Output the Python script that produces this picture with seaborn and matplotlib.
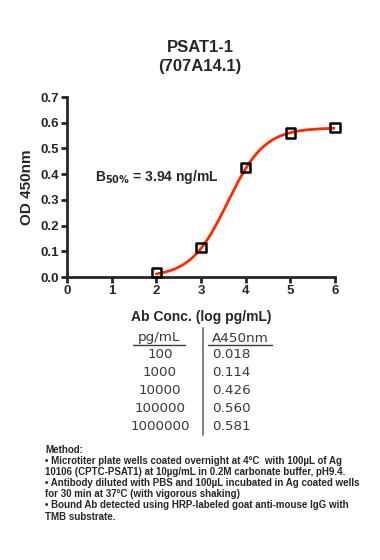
import numpy as np
import pandas as pd
import matplotlib
matplotlib.use("Agg")
import matplotlib.pyplot as plt
import seaborn as sns
from matplotlib.lines import Line2D

# data
conc_pg_ml = ["100", "1000", "10000", "100000", "1000000"]
log_conc = [2, 3, 4, 5, 6]
a450 = [0.018, 0.114, 0.426, 0.560, 0.581]

# 4PL fit parameters (B50% = 3.94 ng/mL)
fit_bottom = 0.0
fit_top = 0.58
fit_log_ec50 = 3.595
fit_hill = 1.05

method_lines = [
    "Method:",
    "\u2022 Microtiter plate wells coated overnight at 4\u00b0C  with 100\u00b5L of Ag",
    "10106 (CPTC-PSAT1) at 10\u00b5g/mL in 0.2M carbonate buffer, pH9.4.",
    "\u2022 Antibody diluted with PBS and 100\u00b5L incubated in Ag coated wells",
    "for 30 min at 37\u00b0C (with vigorous shaking)",
    "\u2022 Bound Ab detected using HRP-labeled goat anti-mouse IgG with",
    "TMB substrate.",
]

sns.set_style("ticks")
plt.rcParams["font.family"] = ["Liberation Sans", "DejaVu Sans"]
plt.rcParams["font.weight"] = "bold"

W, H = 380, 560
fig = plt.figure(figsize=(3.8, 5.6), dpi=100)
ax = fig.add_axes([67 / W, 1 - 277 / H, 268 / W, 180 / H])

xfit = np.linspace(min(log_conc), max(log_conc), 200)
yfit = fit_bottom + (fit_top - fit_bottom) / (1 + 10 ** ((fit_log_ec50 - xfit) * fit_hill))
curve = pd.DataFrame({"x": xfit, "y": yfit})
points = pd.DataFrame({"x": log_conc, "y": a450})

sns.lineplot(data=curve, x="x", y="y", ax=ax, color="#ff2a00", linewidth=2)
sns.scatterplot(data=points, x="x", y="y", ax=ax, marker="s", s=45,
                facecolor="none", edgecolor="black", linewidth=1.8, zorder=5)
for c in ax.collections:
    c.set_clip_on(False)

ax.set_xlim(0, 6)
ax.set_ylim(0, 0.7)
ax.set_xticks(range(0, 7))
yt = np.arange(0, 0.71, 0.1)
ax.set_yticks(yt)
ax.set_yticklabels([f"{v:.1f}" for v in yt])
for sp in ["left", "bottom"]:
    ax.spines[sp].set_linewidth(2)
sns.despine(ax=ax)
ax.tick_params(width=2, length=4, labelsize=9.5, pad=2)
for lab in ax.get_xticklabels() + ax.get_yticklabels():
    lab.set_fontweight("bold")
ax.set_xlabel("Ab Conc. (log pg/mL)", fontsize=10, fontweight="bold", labelpad=9)
ax.set_ylabel("OD 450nm", fontsize=11, fontweight="bold", labelpad=4)
fig.text(200 / W, 1 - 48 / H, "PSAT1-1", fontsize=12, fontweight="bold",
         ha="center", va="center")
fig.text(200 / W, 1 - 67 / H, "(707A14.1)", fontsize=12, fontweight="bold",
         ha="center", va="center")
ax.text(0.62, 0.39, r"B$_{\mathbf{50\%}}$ = 3.94 ng/mL", fontsize=10,
        fontweight="bold", va="center")

# data table below the chart
tbl_font = dict(fontsize=9.7, fontweight="normal", family="DejaVu Sans", color="#3a3a3a")
head_y = 1 - 338 / H
fig.text(159 / W, head_y, "pg/mL", va="center", ha="center", **tbl_font)
fig.text(240 / W, head_y, "A450nm", va="center", ha="center", **tbl_font)
fig.add_artist(Line2D([133 / W, 185 / W], [1 - 345 / H] * 2, color="#3a3a3a", lw=1))
fig.add_artist(Line2D([208 / W, 272 / W], [1 - 345 / H] * 2, color="#3a3a3a", lw=1))
fig.add_artist(Line2D([203 / W] * 2, [1 - 328 / H, 1 - 435 / H], color="#777777", lw=1.3))
for i, (c, v) in enumerate(zip(conc_pg_ml, a450)):
    y = 1 - (354 + i * 18) / H
    fig.text(160 / W, y, c, va="center", ha="center", **tbl_font)
    fig.text(212 / W, y, f"{v:.3f}", va="center", ha="left", **tbl_font)

for i, line in enumerate(method_lines):
    fig.text(45 / W, 1 - (450 + i * 11.1) / H, line, fontsize=7,
             fontweight="bold", va="center", ha="left")

fig.savefig("out.png", dpi=100, facecolor="white")
